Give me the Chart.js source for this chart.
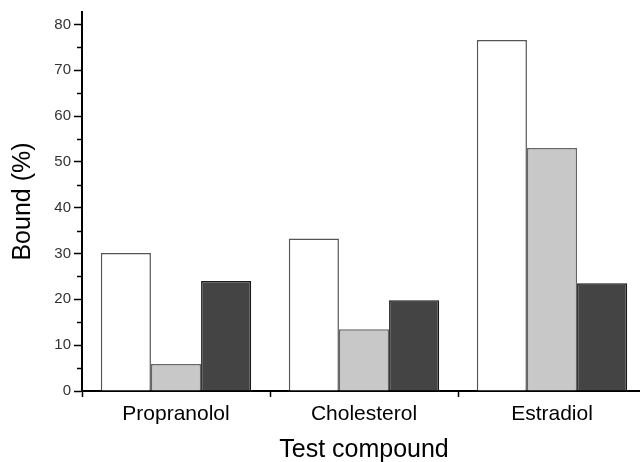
<!DOCTYPE html>
<html>
<head>
<meta charset="utf-8">
<script src="https://cdn.jsdelivr.net/npm/chart.js@4/dist/chart.umd.min.js"></script>
<style>
  html, body { margin: 0; padding: 0; background: #fff; overflow: hidden; width: 640px; height: 462px; }
  canvas { display: block; }
</style>
</head>
<body>
<canvas id="chart" width="648" height="462"></canvas>
<script>
const compounds = ['Propranolol', 'Cholesterol', 'Estradiol'];
const seriesA = [30.1, 33.3, 76.6];
const seriesB = [5.9, 13.5, 53.0];
const seriesC = [24.0, 19.8, 23.5];
const yTicks = [0, 10, 20, 30, 40, 50, 60, 70, 80];
const yMinorTicks = [5, 15, 25, 35, 45, 55, 65, 75];

const font = "'Liberation Sans', Arial, sans-serif";

// short unlabelled ticks between the labelled ones on the y axis
const minorTicks = {
  id: 'minorTicks',
  afterDraw(chart) {
    const y = chart.scales.y;
    const ctx = chart.ctx;
    ctx.save();
    ctx.strokeStyle = '#000';
    ctx.lineWidth = 1.5;
    yMinorTicks.forEach(v => {
      const py = Math.round(y.getPixelForValue(v)) + 0.5;
      ctx.beginPath();
      ctx.moveTo(y.right - 5, py);
      ctx.lineTo(y.right, py);
      ctx.stroke();
    });
    ctx.restore();
  }
};

new Chart(document.getElementById('chart'), {
  type: 'bar',
  data: {
    labels: compounds,
    datasets: [
      { data: seriesA, backgroundColor: '#ffffff', borderColor: '#555555', borderWidth: 1.5 },
      { data: seriesB, backgroundColor: '#c8c8c8', borderColor: '#666666', borderWidth: 1.5 },
      { data: seriesC, backgroundColor: '#444444', borderColor: '#1a1a1a', borderWidth: 1.5 }
    ]
  },
  options: {
    responsive: false,
    animation: false,
    layout: { padding: { top: 12, right: 2, left: 0, bottom: 0 } },
    plugins: {
      legend: { display: false },
      tooltip: { enabled: false }
    },
    datasets: {
      bar: { barPercentage: 1, categoryPercentage: 0.8 }
    },
    scales: {
      x: {
        grid: {
          offset: true,
          drawOnChartArea: false,
          tickLength: 6,
          tickWidth: 1.5,
          tickColor: '#000'
        },
        border: { color: '#000', width: 2 },
        ticks: { color: '#000', font: { family: font, size: 21 }, padding: 5 },
        title: {
          display: true,
          text: 'Test compound',
          color: '#000',
          font: { family: font, size: 25 },
          padding: { top: 8, bottom: -3 }
        },
        afterFit(scale) { scale.height = 71; }
      },
      y: {
        min: 0,
        max: 82.7,
        ticks: {
          stepSize: 10,
          color: '#333',
          font: { family: font, size: 15 },
          padding: 3
        },
        afterBuildTicks(scale) {
          scale.ticks = yTicks.map(v => ({ value: v }));
        },
        grid: {
          drawOnChartArea: false,
          tickLength: 8,
          tickWidth: 1.5,
          tickColor: '#000'
        },
        border: { color: '#000', width: 2 },
        title: {
          display: true,
          text: 'Bound (%)',
          color: '#000',
          font: { family: font, size: 25 },
          padding: { top: 8, bottom: 4 }
        },
        afterFit(scale) { scale.width = 82; }
      }
    }
  },
  plugins: [minorTicks]
});
</script>
</body>
</html>
